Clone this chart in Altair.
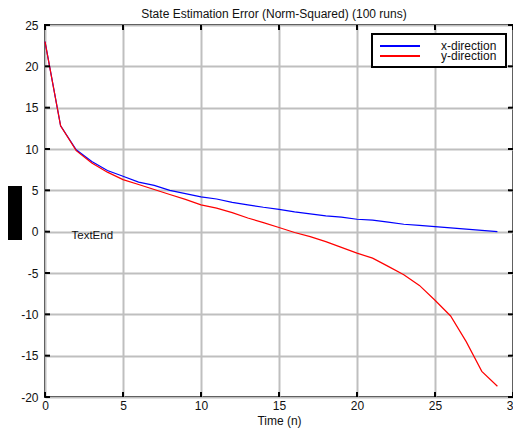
import altair as alt
import pandas as pd

time_n = list(range(30))
x_dir = [23.0, 12.8, 9.9, 8.5, 7.4, 6.7, 6.0, 5.6, 5.0, 4.6, 4.2, 3.95, 3.55, 3.25, 2.95,
         2.7, 2.4, 2.15, 1.9, 1.75, 1.5, 1.4, 1.15, 0.9, 0.75, 0.6, 0.45, 0.3, 0.15, 0.0]
y_dir = [23.0, 12.8, 9.8, 8.3, 7.2, 6.3, 5.7, 5.1, 4.5, 3.9, 3.25, 2.85, 2.3, 1.65, 1.1,
         0.5, -0.1, -0.6, -1.2, -1.9, -2.6, -3.2, -4.2, -5.2, -6.5, -8.3, -10.2, -13.3, -16.9, -18.7]
series_names = ["x-direction", "y-direction"]
series_colors = ["#0000ff", "#ff0000"]
x_ticks = [0, 5, 10, 15, 20, 25, 30]
y_ticks = [-20, -15, -10, -5, 0, 5, 10, 15, 20, 25]

W, H = 468, 372
FONT = "Liberation Sans"
TXT = "#111111"

df = pd.DataFrame({
    "t": time_n * 2,
    "v": x_dir + y_dir,
    "s": [series_names[0]] * len(time_n) + [series_names[1]] * len(time_n),
})

xs = alt.Scale(domain=[0, 30], nice=False)
ys = alt.Scale(domain=[-20, 25], nice=False)

lines = alt.Chart(df).mark_line(strokeWidth=1.2).encode(
    x=alt.X("t:Q", scale=xs, title="Time (n)",
            axis=alt.Axis(values=x_ticks, labelExpr="'' + datum.value", labelFlush=False)),
    y=alt.Y("v:Q", scale=ys, title=None,
            axis=alt.Axis(values=y_ticks, labelExpr="'' + datum.value")),
    color=alt.Color("s:N", scale=alt.Scale(domain=series_names, range=series_colors),
                    legend=None),
)

ydf = pd.DataFrame({"v": y_ticks})
xdf = pd.DataFrame({"t": x_ticks})
tick_l = alt.Chart(ydf).mark_rule(color="black", strokeWidth=2).encode(
    y=alt.Y("v:Q", scale=ys), x=alt.value(0), x2=alt.value(5))
tick_r = alt.Chart(ydf).mark_rule(color="black", strokeWidth=2).encode(
    y=alt.Y("v:Q", scale=ys), x=alt.value(W - 5), x2=alt.value(W))
tick_t = alt.Chart(xdf).mark_rule(color="black", strokeWidth=2).encode(
    x=alt.X("t:Q", scale=xs), y=alt.value(0), y2=alt.value(5))
tick_b = alt.Chart(xdf).mark_rule(color="black", strokeWidth=2).encode(
    x=alt.X("t:Q", scale=xs), y=alt.value(H - 5), y2=alt.value(H))

label_df = pd.DataFrame({"t": [1.7], "v": [-0.9], "txt": ["TextEnd"]})
text_end = alt.Chart(label_df).mark_text(align="left", baseline="alphabetic",
                                         fontSize=11.5, font=FONT, color=TXT).encode(
    x=alt.X("t:Q", scale=xs), y=alt.Y("v:Q", scale=ys), text="txt:N")

box = alt.Chart(label_df).mark_rect(color="black").encode(
    x=alt.value(-38), x2=alt.value(-23), y=alt.value(161), y2=alt.value(215))

leg_box = alt.Chart(label_df).mark_rect(fill="white", stroke="black", strokeWidth=2).encode(
    x=alt.value(327), x2=alt.value(461), y=alt.value(9), y2=alt.value(42))
leg_layers = [leg_box]
for i, (name, col) in enumerate(zip(series_names, series_colors)):
    ldf = pd.DataFrame({"name": [name]})
    yy = 21 + 10 * i
    leg_layers.append(alt.Chart(ldf).mark_rule(color=col, strokeWidth=2).encode(
        x=alt.value(335), x2=alt.value(375), y=alt.value(yy)))
    leg_layers.append(alt.Chart(ldf).mark_text(align="left", baseline="middle", fontSize=12,
                                               font=FONT, color=TXT).encode(
        x=alt.value(396), y=alt.value(yy), text="name:N"))

chart = alt.layer(lines, tick_l, tick_r, tick_t, tick_b, text_end, box, *leg_layers).properties(
    width=W, height=H,
    title=alt.TitleParams("State Estimation Error (Norm-Squared) (100 runs)",
                          fontSize=12, fontWeight="normal", font=FONT, color=TXT,
                          frame="group", offset=-2, dx=-5),
    autosize=alt.AutoSizeParams(type="none"),
    padding={"left": 37, "top": 17, "right": 0, "bottom": 32},
).configure_view(
    stroke="black", strokeWidth=2
).configure_axis(
    grid=True, gridColor="#bfbfbf", gridWidth=2, domain=False, ticks=False,
    labelFont=FONT, labelFontSize=12, labelColor=TXT, labelOverlap=False,
    titleFont=FONT, titleFontSize=12, titleFontWeight="normal", titleColor=TXT,
).configure_axisY(
    labelPadding=7
).configure_axisX(
    labelPadding=3, titlePadding=4
)

chart.save("out.html", embed_options={"renderer": "svg", "actions": False})
